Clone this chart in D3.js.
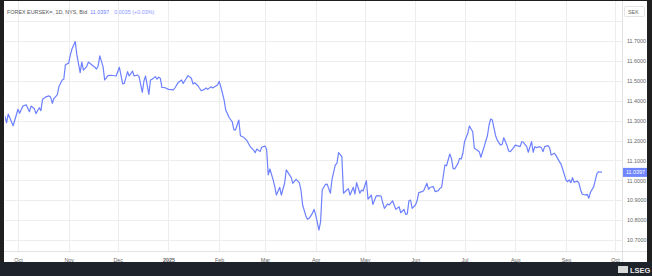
<!DOCTYPE html>
<html>
<head>
<meta charset="utf-8">
<script src="https://cdn.jsdelivr.net/npm/d3@7"></script>
<style>
	html, body { margin: 0; padding: 0; background: #1f1f1f; }
	svg { display: block; font-family: "Liberation Sans", Arial, sans-serif; }
</style>
</head>
<body>
<svg id="chart"></svg>
<script>
var dayNumbers = [-8,-7,-6,-3,0,1,3,5,7,8,10,11,13,14,15,17,19,20,21,22,24,25,27,28,29,31,32,33,35,36,
	38,39,40,42,43,45,47,48,49,50,52,53,55,57,60,62,64,65,67,68,70,71,73,74,76,77,78,80,81,82,
	84,85,86,87,88,90,92,95,96,98,100,101,102,104,106,107,108,110,112,114,115,116,118,119,121,122,123,124,126,127,
	129,131,132,133,135,136,138,140,142,144,145,146,148,149,151,152,153,154,156,157,158,160,161,163,164,166,167,168,170,172,
	173,174,176,177,178,180,181,182,184,185,186,188,189,191,192,194,195,196,198,199,201,202,203,205,206,207,209,210,211,213,
	214,216,217,219,220,222,223,224,226,227,229,230,231,233,234,236,237,238,239,240,241,243,244,245,247,248,250,251,252,254,
	255,257,258,259,261,262,264,265,266,267,269,270,271,272,273,275,276,278,279,280,282,283,285,287,288,289,290,292,293,295,
	296,297,299,300,301,303,304,305,307,308,309,311,312,314,315,316,317,319,320,321,322,324,325,326,328,329,331,332,333,335,
	336,337,338,339,340,342,343,344,345,347,348,349,350,352,353,354,355,357];
var bidValues = [11.323,11.289,11.333,11.274,11.357,11.337,11.373,11.380,11.345,11.373,11.360,11.335,11.365,11.350,11.407,11.419,11.424,11.417,11.387,11.412,11.429,11.470,11.504,11.508,11.581,11.589,11.630,11.660,11.697,11.630,
	11.541,11.594,11.554,11.571,11.594,11.581,11.568,11.559,11.574,11.625,11.571,11.504,11.526,11.528,11.524,11.568,11.484,11.487,11.546,11.524,11.549,11.524,11.529,11.521,11.442,11.499,11.524,11.432,11.504,11.508,
	11.521,11.508,11.518,11.513,11.467,11.465,11.457,11.454,11.465,11.492,11.504,11.487,11.500,11.526,11.513,11.484,11.490,11.475,11.450,11.457,11.464,11.457,11.470,11.464,11.474,11.479,11.497,11.470,11.404,11.353,
	11.317,11.293,11.253,11.253,11.303,11.224,11.216,11.199,11.169,11.152,11.139,11.157,11.144,11.166,11.172,11.156,11.027,11.057,11.002,10.968,10.926,10.965,10.926,10.985,11.052,11.027,11.015,10.985,11.005,10.988,
	10.951,10.876,10.821,10.804,10.809,10.834,10.854,10.826,10.750,10.792,10.951,10.980,10.981,10.935,11.005,11.077,11.085,11.139,11.119,10.935,10.951,10.958,10.926,10.965,10.931,10.988,10.935,10.951,10.946,10.998,
	10.905,10.926,10.879,10.921,10.923,10.921,10.887,10.859,10.881,10.876,10.897,10.876,10.854,10.867,10.837,10.854,10.829,10.831,10.897,10.901,10.859,10.876,10.897,10.938,10.943,10.948,10.985,10.955,10.965,10.968,
	10.943,10.948,10.960,10.965,11.077,11.073,11.132,11.110,11.060,11.057,11.085,11.110,11.107,11.136,11.194,11.236,11.273,11.244,11.161,11.156,11.144,11.116,11.169,11.224,11.278,11.308,11.303,11.224,11.202,11.177,
	11.181,11.214,11.174,11.147,11.144,11.164,11.177,11.174,11.169,11.194,11.191,11.169,11.141,11.194,11.141,11.169,11.164,11.169,11.164,11.144,11.169,11.174,11.164,11.127,11.136,11.124,11.094,11.081,11.057,11.002,
	10.993,11.002,10.988,11.013,10.990,10.996,10.985,10.951,10.930,10.926,10.930,10.910,10.940,10.968,11.002,11.035,11.043,11.0397];
var yTickValues = [10.7, 10.8, 10.9, 11.0, 11.1, 11.2, 11.3, 11.4, 11.5, 11.6, 11.7, 11.8];
var titleText = "FOREX EURSEK=, 1D, NYS, Bid";
var lastPrice = "11.0397";
var changeText = "0.0035 (+0.03%)";
var currency = "SEK";

var width = 652, height = 276;
var panel = { left: 4, top: 1, right: 647, bottom: 262 };
var plot = { left: 5, top: 1, right: 622, bottom: 251 };
var lineColor = "#6d80ff";
var fontSize = 5.4;

var svg = d3.select("#chart").attr("width", width).attr("height", height);

svg.append("rect")
	.attr("x", 0).attr("y", 0).attr("width", width).attr("height", height)
	.attr("fill", "#1f1f1f");
svg.append("rect")
	.attr("x", panel.left).attr("y", panel.top)
	.attr("width", panel.right - panel.left).attr("height", panel.bottom - panel.top)
	.attr("fill", "#ffffff");
svg.append("rect")
	.attr("x", 0).attr("y", panel.bottom).attr("width", width).attr("height", height - panel.bottom)
	.attr("fill", "#1d222b");

var start = new Date(2024, 9, 1);
var data = dayNumbers.map(function(d, i) {
	return { date: d3.timeDay.offset(start, d), value: bidValues[i] };
});

var xScale = d3.scaleTime()
	.domain([new Date(2024, 9, 1), new Date(2025, 9, 1)])
	.range([18, 615]);
var yScale = d3.scaleLinear()
	.domain([10.7, 11.7])
	.range([240, 41]);

var months = d3.timeMonth.range(new Date(2024, 9, 1), new Date(2025, 9, 2));

// grid
svg.append("g").selectAll("line").data(months).enter().append("line")
	.attr("x1", function(d) { return Math.round(xScale(d)) + 0.5; })
	.attr("x2", function(d) { return Math.round(xScale(d)) + 0.5; })
	.attr("y1", plot.top).attr("y2", plot.bottom)
	.attr("stroke", "#ededed").attr("stroke-width", 1);
svg.append("g").selectAll("line").data(yTickValues).enter().append("line")
	.attr("x1", plot.left).attr("x2", plot.right)
	.attr("y1", function(d) { return Math.round(yScale(d)) + 0.5; })
	.attr("y2", function(d) { return Math.round(yScale(d)) + 0.5; })
	.attr("stroke", "#ededed").attr("stroke-width", 1);

// separators
svg.append("line")
	.attr("x1", plot.right + 0.5).attr("x2", plot.right + 0.5)
	.attr("y1", panel.top).attr("y2", panel.bottom)
	.attr("stroke", "#e2e2e2");
svg.append("line")
	.attr("x1", panel.left).attr("x2", panel.right)
	.attr("y1", plot.bottom + 0.5).attr("y2", plot.bottom + 0.5)
	.attr("stroke", "#e2e2e2");

// title: place each piece after the previous one
var title = svg.append("text")
	.attr("x", 7).attr("y", 14)
	.attr("font-size", fontSize).attr("fill", "#555")
	.text(titleText);
var titleEnd = 7 + title.node().getComputedTextLength() + 3;
var price = svg.append("text").attr("x", titleEnd).attr("y", 14).attr("font-size", fontSize)
	.attr("fill", lineColor).text(lastPrice);
var priceEnd = titleEnd + price.node().getComputedTextLength() + 5;
svg.append("text").attr("x", priceEnd).attr("y", 14).attr("font-size", fontSize)
	.attr("fill", "#8a98ff").text(changeText);

// line
svg.append("clipPath").attr("id", "clip").append("rect")
	.attr("x", plot.left).attr("y", plot.top)
	.attr("width", plot.right - plot.left).attr("height", plot.bottom - plot.top);
var line = d3.line()
	.x(function(d) { return xScale(d.date); })
	.y(function(d) { return yScale(d.value); });
svg.append("path")
	.datum(data)
	.attr("clip-path", "url(#clip)")
	.attr("fill", "none")
	.attr("stroke", lineColor)
	.attr("stroke-width", 1.2)
	.attr("stroke-linejoin", "round")
	.attr("d", line);

// x axis
var xAxis = d3.axisBottom(xScale)
	.tickValues(months)
	.tickSize(0)
	.tickFormat(function(d) { return d.getMonth() == 0 ? d3.timeFormat("%Y")(d) : d3.timeFormat("%b")(d); });
var xAxisLine = svg.append("g")
	.attr("transform", "translate(0," + plot.bottom + ")")
	.call(xAxis);
xAxisLine.select(".domain").remove();
xAxisLine.selectAll("text")
	.attr("y", 7)
	.attr("font-size", fontSize)
	.attr("font-family", "Liberation Sans, Arial, sans-serif")
	.attr("fill", "#666")
	.attr("font-weight", function(d) { return d.getMonth() == 0 ? "bold" : "normal"; });

// y axis
var yAxis = d3.axisRight(yScale)
	.tickValues(yTickValues.filter(function(d) { return d <= 11.7; }))
	.tickSize(0)
	.tickFormat(d3.format(".4f"));
var yAxisLine = svg.append("g")
	.attr("transform", "translate(" + plot.right + ",0)")
	.call(yAxis);
yAxisLine.select(".domain").remove();
yAxisLine.selectAll("text")
	.attr("x", 5)
	.attr("font-size", fontSize)
	.attr("font-family", "Liberation Sans, Arial, sans-serif")
	.attr("fill", "#666");

// currency box
svg.append("rect")
	.attr("x", 624.5).attr("y", 6.5).attr("width", 20).attr("height", 10)
	.attr("rx", 1).attr("fill", "#fff").attr("stroke", "#e4e4e4");
svg.append("text").attr("x", 628).attr("y", 13.5).attr("font-size", fontSize)
	.attr("fill", "#666").text(currency);

// last price label
var lastY = yScale(bidValues[bidValues.length - 1]);
svg.append("rect")
	.attr("x", plot.right + 1).attr("y", lastY - 4.5).attr("width", 24).attr("height", 9)
	.attr("fill", "#6f86ff");
svg.append("text").attr("x", plot.right + 4).attr("y", lastY + 2)
	.attr("font-size", fontSize).attr("fill", "#fff").text(lastPrice);

// logo
svg.append("rect").attr("x", 618).attr("y", 266).attr("width", 10).attr("height", 7)
	.attr("fill", "#d8d8d8");
svg.append("text").attr("x", 630).attr("y", 273).attr("font-size", 7.5)
	.attr("font-weight", "bold").attr("fill", "#e8e8e8").text("LSEG");
</script>
</body>
</html>
